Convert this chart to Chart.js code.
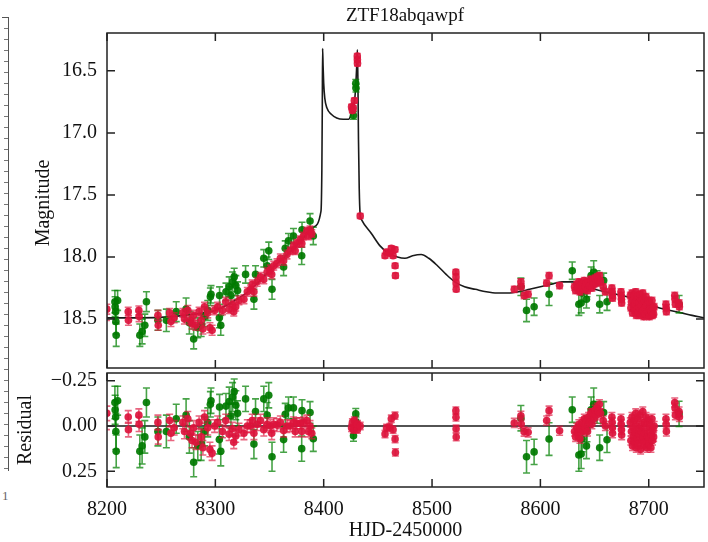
<!DOCTYPE html>
<html>
<head>
<meta charset="utf-8">
<title>ZTF18abqawpf</title>
<script src="https://cdn.jsdelivr.net/npm/chart.js@4.4.1/dist/chart.umd.min.js"></script>
<style>
  html, body { margin: 0; padding: 0; background: #fff; }
  #wrap { position: relative; width: 708px; height: 542px; overflow: hidden; }
  #wrap canvas { position: absolute; left: 0; }
  #lcChart { top: 0; }
  #resChart { top: 340px; }
  #strip { position: absolute; left: 2px; top: 17px; width: 6px; height: 453px;
    border-right: 1.5px solid #555; border-top: 1.5px solid #555;
    background: repeating-linear-gradient(to bottom, transparent 0px, transparent 10px, #777 10px, #777 11px);
    background-size: 4px 100%; background-repeat: no-repeat; background-position: right top; }
  #stripLabel { position: absolute; left: 2px; top: 488px; font: 13px 'Liberation Serif', serif; color: #666; }
</style>
</head>
<body>
<div id="wrap">
  <div id="strip"></div>
  <span id="stripLabel">1</span>
  <canvas id="lcChart" width="708" height="390"></canvas>
  <canvas id="resChart" width="708" height="202"></canvas>
</div>
<script>
// axis ticks
const xTicks = [8200, 8300, 8400, 8500, 8600, 8700];
const magTicks = [16.5, 17.0, 17.5, 18.0, 18.5];
const resTicks = [-0.25, 0.0, 0.25];

// binary-lens model curve
const modelT = [8200, 8230, 8260, 8280, 8300, 8310, 8320, 8330, 8340, 8350, 8360, 8370, 8380, 8390,
  8397.5, 8398.3, 8398.7, 8399.0, 8399.4, 8400, 8401, 8403, 8407, 8412, 8418, 8423, 8425, 8427,
  8428.5, 8429.6, 8430.5, 8431.1, 8431.6, 8432.1, 8432.8, 8433.6, 8435, 8444, 8452, 8460, 8468,
  8475, 8482, 8490, 8497, 8505, 8513, 8521, 8530, 8540, 8550, 8560, 8570, 8580, 8590, 8600, 8610,
  8620, 8630, 8640, 8650, 8660, 8670, 8680, 8690, 8700, 8710, 8720, 8730, 8740, 8751];
const modelMag = [18.49, 18.49, 18.48, 18.46, 18.43, 18.39, 18.34, 18.28, 18.20, 18.11, 18.03, 17.95, 17.86, 17.76,
  17.63, 17.30, 16.80, 16.32, 16.45, 16.60, 16.72, 16.80, 16.85, 16.88, 16.89, 16.89, 16.86, 16.80,
  16.74, 16.62, 16.46, 16.33, 16.60, 17.05, 17.45, 17.65, 17.70, 17.81, 17.91, 17.97, 18.00,
  18.01, 17.99, 17.98, 18.01, 18.07, 18.14, 18.20, 18.24, 18.26, 18.28, 18.29, 18.29, 18.28, 18.26, 18.24, 18.22,
  18.20, 18.20, 18.23, 18.26, 18.28, 18.30, 18.32, 18.35, 18.38, 18.41, 18.43, 18.45, 18.47, 18.49];

// zero line of the residual panel
const zeroT = [8200, 8751];
const zeroRes = [0, 0];

// ZTF r band (red)
const redT = [
  8199.5, 8199.8, 8219.6, 8219.8, 8229.4, 8229.6, 8247.0, 8247.3, 8257.8, 8259.0, 8262.0, 8270.0, 8271.5,
  8274.6, 8277.0, 8278.5, 8280.0, 8282.0, 8285.0, 8287.0, 8288.5, 8290.0, 8293.0, 8295.0, 8297.0, 8299.3,
  8302.1, 8306.6, 8309.6, 8312.7, 8315.7, 8317.0, 8318.8, 8321.8, 8326.4, 8329.5, 8332.5, 8334.0,
  8335.6, 8338.6, 8341.7, 8344.7, 8347.8, 8350.8, 8352.0, 8353.9, 8356.9, 8360.0, 8363.0, 8366.1,
  8369.1, 8372.2, 8373.7, 8375.2, 8378.3, 8379.8, 8381.3, 8384.4, 8385.9, 8387.4, 8389.0,
  8425.7, 8426.5, 8427.3, 8428.3, 8431.0, 8431.1, 8431.2, 8433.7,
  8456.6, 8458.0, 8461.0, 8462.4, 8464.0, 8465.8, 8465.9, 8466.2, 8522.0, 8522.1, 8522.2, 8522.3,
  8575.9, 8582.0, 8582.3, 8585.0, 8588.7, 8605.8, 8608.0, 8617.7,
  8631.5, 8632.5, 8633.5, 8634.5, 8635.5, 8636.5, 8637.5, 8638.5, 8639.5, 8640.5, 8641.5, 8642.5, 8643.5,
  8644.5, 8645.5, 8646.5, 8647.5, 8648.5, 8649.5, 8650.5, 8651.5, 8652.5, 8653.5, 8654.5, 8655.5,
  8658.0, 8660.0, 8666.0, 8666.2, 8666.4, 8666.6, 8674.4, 8674.6, 8674.8, 8675.0,
  8683.0, 8683.5, 8684.0, 8684.5, 8685.0, 8685.5, 8686.0, 8686.5, 8687.0, 8687.5, 8688.0, 8688.5, 8689.0, 8689.5, 8690.0,
  8690.5, 8691.0, 8691.5, 8692.0, 8692.5, 8693.0, 8693.5, 8694.0, 8694.5, 8695.0, 8695.5, 8696.0, 8696.5, 8697.0, 8697.5,
  8698.0, 8698.5, 8699.0, 8699.5, 8700.0, 8700.5, 8701.0, 8701.5, 8702.0, 8702.5, 8703.0, 8703.5, 8704.0, 8704.5, 8705.0,
  8715.9, 8716.1, 8716.3, 8724.0, 8724.3, 8724.6, 8728.0, 8728.3];
const redMag = [
  18.47, 18.42, 18.44, 18.51, 18.43, 18.48, 18.47, 18.55, 18.45, 18.52, 18.49, 18.45, 18.50,
  18.43, 18.51, 18.54, 18.47, 18.55, 18.44, 18.51, 18.58, 18.40, 18.45, 18.57, 18.59, 18.43,
  18.40, 18.43, 18.36, 18.42, 18.38, 18.44, 18.40, 18.35, 18.34, 18.28, 18.26, 18.22,
  18.28, 18.20, 18.16, 18.18, 18.12, 18.10, 18.14, 18.07, 18.05, 18.01, 18.03, 17.98,
  17.95, 17.91, 17.95, 17.89, 17.86, 17.89, 17.83, 17.79, 17.83, 17.78, 17.81,
  16.79, 16.82, 16.80, 16.74, 16.38, 16.41, 16.44, 17.67,
  17.99, 17.96, 17.97, 17.93, 17.99, 17.94, 18.07, 18.15, 18.12, 18.16, 18.21, 18.26,
  18.26, 18.20, 18.24, 18.31, 18.30, 18.21, 18.15, 18.23,
  18.24, 18.27, 18.22, 18.25, 18.20, 18.28, 18.23, 18.21, 18.26, 18.19, 18.24, 18.21, 18.27,
  18.20, 18.23, 18.18, 18.25, 18.19, 18.22, 18.17, 18.21, 18.16, 18.19, 18.15, 18.20,
  18.24, 18.28, 18.25, 18.28, 18.31, 18.33, 18.28, 18.31, 18.34, 18.37,
  18.31, 18.41, 18.36, 18.29, 18.45, 18.35, 18.40, 18.31, 18.43, 18.38, 18.28, 18.47, 18.35, 18.42, 18.31,
  18.45, 18.37, 18.41, 18.30, 18.47, 18.39, 18.35, 18.44, 18.29, 18.43, 18.48, 18.35, 18.41, 18.46, 18.32,
  18.39, 18.47, 18.44, 18.35, 18.45, 18.48, 18.37, 18.42, 18.47, 18.44, 18.35, 18.47, 18.41, 18.46, 18.40,
  18.38, 18.41, 18.44, 18.31, 18.34, 18.38, 18.37, 18.40];
const redErr = [
  0.04, 0.04, 0.035, 0.04, 0.035, 0.04, 0.04, 0.04, 0.035, 0.04, 0.04, 0.035, 0.04,
  0.04, 0.035, 0.04, 0.04, 0.04, 0.035, 0.04, 0.04, 0.035, 0.04, 0.04, 0.04, 0.035,
  0.035, 0.035, 0.035, 0.035, 0.035, 0.035, 0.035, 0.035, 0.035, 0.035, 0.035, 0.035,
  0.035, 0.035, 0.035, 0.035, 0.035, 0.035, 0.035, 0.035, 0.035, 0.035, 0.035, 0.035,
  0.03, 0.03, 0.03, 0.03, 0.03, 0.03, 0.03, 0.03, 0.03, 0.03, 0.03,
  0.02, 0.02, 0.02, 0.02, 0.02, 0.02, 0.02, 0.02,
  0.02, 0.02, 0.02, 0.02, 0.02, 0.02, 0.02, 0.02, 0.02, 0.02, 0.02, 0.02,
  0.025, 0.025, 0.025, 0.025, 0.025, 0.025, 0.025, 0.025,
  0.025, 0.025, 0.025, 0.025, 0.025, 0.025, 0.025, 0.025, 0.025, 0.025, 0.025, 0.025, 0.025,
  0.025, 0.025, 0.025, 0.025, 0.025, 0.025, 0.025, 0.025, 0.025, 0.025, 0.025, 0.025,
  0.025, 0.025, 0.025, 0.025, 0.025, 0.025, 0.025, 0.025, 0.025, 0.025,
  0.025, 0.025, 0.025, 0.025, 0.025, 0.025, 0.025, 0.025, 0.025, 0.025, 0.025, 0.025, 0.025, 0.025, 0.025,
  0.025, 0.025, 0.025, 0.025, 0.025, 0.025, 0.025, 0.025, 0.025, 0.025, 0.025, 0.025, 0.025, 0.025, 0.025,
  0.025, 0.025, 0.025, 0.025, 0.025, 0.025, 0.025, 0.025, 0.025, 0.025, 0.025, 0.025, 0.025, 0.025, 0.025,
  0.025, 0.025, 0.025, 0.025, 0.025, 0.025, 0.025, 0.025];
const redRes = [
  -0.02, -0.07, -0.05, 0.02, -0.06, -0.01, -0.02, 0.06, -0.03, 0.04, 0.01, -0.02, 0.03,
  -0.04, 0.04, 0.08, 0.01, 0.09, -0.02, 0.06, 0.12, -0.05, 0.01, 0.13, 0.15, 0.00,
  -0.02, 0.03, -0.03, 0.045, 0.015, 0.09, 0.055, 0.02, 0.04, 0.00, 0.00, -0.03,
  0.04, -0.01, -0.03, 0.02, -0.01, 0.00, 0.04, -0.01, -0.005, -0.02, 0.025, 0.00,
  0.00, -0.02, 0.03, -0.015, -0.015, 0.03, -0.02, -0.03, 0.03, 0.00, 0.04,
  0.01, -0.02, 0.02, -0.03, 0.00, 0.02, -0.01, 0.00,
  0.044, 0.01, 0.006, -0.04, 0.02, -0.057, 0.072, 0.146, -0.085, -0.048, 0.015, 0.061,
  -0.017, -0.057, -0.011, 0.031, 0.035, -0.03, -0.085, 0.026,
  0.03, 0.06, 0.01, 0.04, -0.01, 0.07, 0.02, -0.02, 0.03, -0.04, 0.01, -0.03, 0.03,
  -0.05, -0.02, -0.07, -0.01, -0.07, -0.04, -0.09, -0.06, -0.10, -0.08, -0.12, -0.07,
  -0.03, 0.00, -0.05, -0.02, 0.01, 0.04, -0.04, -0.01, 0.02, 0.05,
  -0.02, 0.08, 0.03, -0.05, 0.11, 0.01, 0.06, -0.03, 0.09, 0.04, -0.07, 0.12, 0.00, 0.07, -0.04,
  0.10, 0.02, 0.05, -0.06, 0.13, 0.03, -0.01, 0.08, -0.08, 0.06, 0.11, -0.02, 0.04, 0.09, -0.05,
  0.01, 0.12, 0.06, -0.03, 0.07, 0.10, -0.01, 0.03, 0.12, 0.05, -0.04, 0.08, 0.02, 0.06, 0.00,
  -0.04, -0.01, 0.03, -0.13, -0.10, -0.06, -0.08, -0.05];

// ZTF g band (green)
const greenT = [
  8207.3, 8207.5, 8208.0, 8208.2, 8208.5, 8209.8, 8230.3, 8232.4, 8234.9, 8236.4, 8247.0,
  8254.8, 8263.9, 8273.0, 8276.0, 8280.0, 8283.8, 8286.9, 8290.0, 8293.0, 8295.4, 8296.0,
  8303.7, 8303.9, 8305.0, 8309.8, 8312.8, 8314.4, 8315.9, 8317.4, 8318.9, 8320.5, 8327.9, 8335.6, 8337.1,
  8344.7, 8347.8, 8349.3, 8352.3, 8363.0, 8364.5, 8367.5, 8372.1, 8379.7, 8380.0, 8387.4, 8390.4,
  8427.5, 8429.6, 8429.8,
  8582.0, 8587.2, 8594.2, 8608.0, 8629.4, 8635.5, 8637.6, 8638.5, 8642.5,
  8643.0, 8646.8, 8649.2, 8652.3, 8654.7, 8658.4, 8661.5, 8728.0];
const greenMag = [
  18.36, 18.40, 18.44, 18.52, 18.63, 18.35, 18.63, 18.60, 18.55, 18.36, 18.51,
  18.51, 18.44, 18.42, 18.53, 18.66, 18.57, 18.55, 18.48, 18.43, 18.32, 18.30,
  18.49, 18.31, 18.55, 18.28, 18.24, 18.31, 18.20, 18.16, 18.23, 18.27, 18.14, 18.34, 18.14,
  18.01, 18.07, 17.95, 18.26, 18.08, 17.93, 17.87, 17.83, 17.99, 17.78, 17.71, 17.83,
  16.86, 16.60, 16.64,
  18.24, 18.43, 18.40, 18.30, 18.11, 18.38, 18.37, 18.29, 18.34,
  18.25, 18.15, 18.12, 18.17, 18.38, 18.19, 18.36, 18.38];
const greenErr = [
  0.09, 0.08, 0.09, 0.10, 0.09, 0.08, 0.09, 0.10, 0.09, 0.08, 0.08,
  0.09, 0.08, 0.09, 0.09, 0.08, 0.08, 0.09, 0.08, 0.08, 0.07, 0.07,
  0.08, 0.07, 0.08, 0.07, 0.08, 0.07, 0.08, 0.07, 0.08, 0.07, 0.07, 0.08, 0.07,
  0.07, 0.07, 0.07, 0.08, 0.07, 0.06, 0.06, 0.06, 0.07, 0.06, 0.06, 0.07,
  0.03, 0.03, 0.03,
  0.07, 0.09, 0.07, 0.09, 0.07, 0.09, 0.08, 0.07, 0.07,
  0.07, 0.07, 0.09, 0.06, 0.07, 0.06, 0.07, 0.07];
const greenRes = [
  -0.13, -0.09, -0.05, 0.03, 0.14, -0.14, 0.14, 0.11, 0.06, -0.13, 0.03,
  0.03, -0.04, -0.06, 0.06, 0.20, 0.11, 0.10, 0.03, -0.02, -0.12, -0.14,
  0.075, -0.105, 0.14, -0.11, -0.135, -0.055, -0.16, -0.19, -0.115, -0.07, -0.15, 0.10, -0.08,
  -0.15, -0.06, -0.17, 0.17, 0.075, -0.065, -0.10, -0.10, 0.125, -0.085, -0.075, 0.07,
  0.054, -0.067, -0.02,
  -0.043, 0.17, 0.143, 0.072, -0.09, 0.16, 0.155, 0.072, 0.11,
  0.017, -0.09, -0.12, -0.075, 0.12, -0.075, 0.076, -0.067];

const red = 'rgba(220, 20, 60, 0.92)';
const redBar = 'rgba(220, 20, 60, 0.65)';
const green = 'rgba(0, 122, 0, 0.92)';
const greenBar = 'rgba(0, 128, 0, 0.72)';
const serif = "'Liberation Serif', 'Times New Roman', serif";
const ink = '#111';

const toPts = (xs, ys) => xs.map((x, i) => ({ x: x, y: ys[i] }));

// vertical error bars with caps, drawn just under each dataset's markers
const errorBars = {
  id: 'errorBars',
  beforeDatasetDraw(chart, args) {
    const ds = chart.data.datasets[args.index];
    if (!ds.errors) return;
    const { ctx, chartArea: a } = chart;
    const yScale = chart.scales[args.meta.yAxisID];
    ctx.save();
    ctx.beginPath();
    ctx.rect(a.left, a.top, a.right - a.left, a.bottom - a.top);
    ctx.clip();
    ctx.strokeStyle = ds.barColor;
    ctx.lineWidth = 1.6;
    args.meta.data.forEach((pt, i) => {
      const v = ds.data[i].y;
      const e = ds.errors[i];
      const y1 = yScale.getPixelForValue(v - e);
      const y2 = yScale.getPixelForValue(v + e);
      ctx.beginPath();
      ctx.moveTo(pt.x, y1); ctx.lineTo(pt.x, y2);
      ctx.moveTo(pt.x - 3.5, y1); ctx.lineTo(pt.x + 3.5, y1);
      ctx.moveTo(pt.x - 3.5, y2); ctx.lineTo(pt.x + 3.5, y2);
      ctx.stroke();
    });
    ctx.restore();
  }
};

// box frame with inward ticks on all four sides
const frame = {
  id: 'frame',
  afterDraw(chart) {
    const { ctx, chartArea: a, scales } = chart;
    ctx.save();
    ctx.strokeStyle = '#222';
    ctx.lineWidth = 1.5;
    ctx.strokeRect(a.left, a.top, a.right - a.left, a.bottom - a.top);
    ctx.beginPath();
    xTicks.forEach(v => {
      const px = scales.x.getPixelForValue(v);
      ctx.moveTo(px, a.top); ctx.lineTo(px, a.top + 8);
      ctx.moveTo(px, a.bottom); ctx.lineTo(px, a.bottom - 8);
    });
    scales.y.ticks.forEach(t => {
      const py = scales.y.getPixelForValue(t.value);
      ctx.moveTo(a.left, py); ctx.lineTo(a.left + 8, py);
      ctx.moveTo(a.right, py); ctx.lineTo(a.right - 8, py);
    });
    ctx.stroke();
    ctx.restore();
  }
};

// free text: title and y axis labels
const labels = {
  id: 'labels',
  afterDraw(chart, args, opts) {
    const ctx = chart.ctx;
    ctx.save();
    ctx.fillStyle = ink;
    ctx.textAlign = 'center';
    ctx.textBaseline = 'middle';
    opts.items.forEach(it => {
      ctx.save();
      ctx.font = it.font;
      ctx.translate(it.x, it.y);
      if (it.rotate) ctx.rotate(-Math.PI / 2);
      ctx.fillText(it.text, 0, 0);
      ctx.restore();
    });
    ctx.restore();
  }
};

const yAxis = (min, max, ticks, digits) => ({
  type: 'linear',
  position: 'left',
  reverse: true,
  min: min,
  max: max,
  afterFit: s => { s.width = 107; },
  afterBuildTicks: s => { s.ticks = ticks.map(v => ({ value: v })); },
  grid: { display: false, drawTicks: false },
  border: { display: false },
  ticks: {
    padding: 10,
    color: ink,
    font: { family: serif, size: 20 },
    callback: v => v.toFixed(digits).replace('-', '\u2212')
  }
});

// light curve panel
new Chart(document.getElementById('lcChart'), {
  type: 'scatter',
  data: {
    datasets: [
      { label: 'ZTF r', data: toPts(redT, redMag), errors: redErr, barColor: redBar,
        backgroundColor: red, pointRadius: 3.8, pointBorderWidth: 0 },
      { label: 'ZTF g', data: toPts(greenT, greenMag), errors: greenErr, barColor: greenBar,
        backgroundColor: green, pointRadius: 3.8, pointBorderWidth: 0 },
      { label: 'model', data: toPts(modelT, modelMag), showLine: true, pointRadius: 0,
        borderColor: '#1a1a1a', borderWidth: 1.6, cubicInterpolationMode: 'monotone' }
    ]
  },
  options: {
    responsive: false,
    animation: false,
    layout: { padding: { top: 33, bottom: 17, left: 0, right: 0 } },
    plugins: {
      legend: { display: false },
      tooltip: { enabled: false },
      labels: { items: [
        { text: 'ZTF18abqawpf', x: 405, y: 16, font: '19px ' + serif },
        { text: 'Magnitude', x: 44, y: 203, rotate: true, font: '20px ' + serif }
      ] }
    },
    scales: {
      x: { type: 'linear', display: false, min: 8200, max: 8751,
        afterBuildTicks: s => { s.ticks = xTicks.map(v => ({ value: v })); } },
      y: yAxis(16.195, 18.894, magTicks, 1)
    }
  },
  plugins: [errorBars, frame, labels]
});

// residual panel
new Chart(document.getElementById('resChart'), {
  type: 'scatter',
  data: {
    datasets: [
      { label: 'ZTF r', data: toPts(redT, redRes), errors: redErr, barColor: redBar,
        backgroundColor: red, pointRadius: 3.8, pointBorderWidth: 0 },
      { label: 'ZTF g', data: toPts(greenT, greenRes), errors: greenErr, barColor: greenBar,
        backgroundColor: green, pointRadius: 3.8, pointBorderWidth: 0 },
      { label: 'zero', data: toPts(zeroT, zeroRes), showLine: true, pointRadius: 0,
        borderColor: '#1a1a1a', borderWidth: 1.3 }
    ]
  },
  options: {
    responsive: false,
    animation: false,
    layout: { padding: { top: 33, bottom: 0, left: 0, right: 0 } },
    plugins: {
      legend: { display: false },
      tooltip: { enabled: false },
      labels: { items: [
        { text: 'Residual', x: 26, y: 90, rotate: true, font: '20px ' + serif }
      ] }
    },
    scales: {
      x: {
        type: 'linear',
        position: 'bottom',
        min: 8200,
        max: 8751,
        afterBuildTicks: s => { s.ticks = xTicks.map(v => ({ value: v })); },
        afterFit: s => { s.height = 55; },
        grid: { display: false, drawTicks: false },
        border: { display: false },
        ticks: { padding: 11, color: ink, maxRotation: 0, autoSkip: false,
          font: { family: serif, size: 20 }, callback: v => String(v) },
        title: { display: true, text: 'HJD-2450000', color: ink,
          font: { family: serif, size: 20, lineHeight: 1.0 }, padding: { top: 0, bottom: 1 } }
      },
      y: yAxis(-0.293, 0.337, resTicks, 2)
    }
  },
  plugins: [errorBars, frame, labels]
});
</script>
</body>
</html>
